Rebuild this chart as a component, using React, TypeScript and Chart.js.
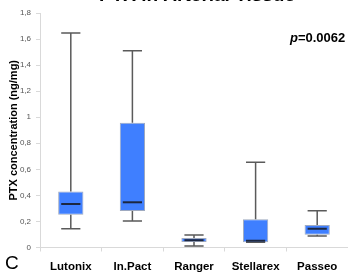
import React, { useEffect, useRef } from "react";
import { Chart, registerables } from "chart.js";

Chart.register(...registerables);

const categories = ["Lutonix", "In.Pact", "Ranger", "Stellarex", "Passeo"];
const mins = [0.144, 0.204, 0.012, 0.04, 0.088];
const q1s = [0.252, 0.28, 0.042, 0.04, 0.098];
const medians = [0.334, 0.347, 0.056, 0.052, 0.144];
const q3s = [0.429, 0.957, 0.072, 0.217, 0.173];
const maxs = [1.646, 1.51, 0.096, 0.655, 0.282];
const yTicks = [0, 0.2, 0.4, 0.6, 0.8, 1, 1.2, 1.4, 1.6, 1.8];

const FONT = "'Liberation Sans', Arial, sans-serif";

const boxPlugin = {
  id: "boxExtras",
  beforeDatasetsDraw(chart: any) {
    const ctx = chart.ctx;
    const y = chart.scales.y;
    const meta = chart.getDatasetMeta(0);
    ctx.save();
    ctx.strokeStyle = "#5a5a5a";
    ctx.lineWidth = 1.5;
    meta.data.forEach((bar: any, i: number) => {
      const x = bar.x;
      const capHalf = bar.width * 0.38;
      const yMax = y.getPixelForValue(maxs[i]);
      const yMin = y.getPixelForValue(mins[i]);
      const yQ3 = y.getPixelForValue(q3s[i]);
      const yQ1 = y.getPixelForValue(q1s[i]);
      ctx.beginPath();
      ctx.moveTo(x, yQ3);
      ctx.lineTo(x, yMax);
      ctx.moveTo(x - capHalf, yMax);
      ctx.lineTo(x + capHalf, yMax);
      ctx.moveTo(x, yQ1);
      ctx.lineTo(x, yMin);
      ctx.moveTo(x - capHalf, yMin);
      ctx.lineTo(x + capHalf, yMin);
      ctx.stroke();
    });
    ctx.restore();
  },
  afterDatasetsDraw(chart: any) {
    const ctx = chart.ctx;
    const y = chart.scales.y;
    const meta = chart.getDatasetMeta(0);
    ctx.save();
    ctx.strokeStyle = "#1c2740";
    ctx.lineWidth = 2;
    meta.data.forEach((bar: any, i: number) => {
      const x = bar.x;
      const half = bar.width * 0.38;
      const yMed = y.getPixelForValue(medians[i]);
      ctx.beginPath();
      ctx.moveTo(x - half, yMed);
      ctx.lineTo(x + half, yMed);
      ctx.stroke();
    });
    ctx.restore();
  },
  afterDraw(chart: any) {
    const ctx = chart.ctx;
    ctx.save();
    ctx.fillStyle = "#000";
    ctx.textBaseline = "alphabetic";
    ctx.textAlign = "center";
    ctx.font = `bold 19px ${FONT}`;
    ctx.fillText("PTX in Arterial Tissue", 197, 1);
    // p value
    ctx.textAlign = "left";
    ctx.font = `italic bold 13px ${FONT}`;
    const px = 290;
    const py = 42;
    ctx.fillText("p", px, py);
    const w = ctx.measureText("p").width;
    ctx.font = `bold 13px ${FONT}`;
    ctx.fillText("=0.0062", px + w, py);
    // panel letter
    ctx.font = `19px ${FONT}`;
    ctx.fillText("C", 5, 269);
    ctx.restore();
  },
};

export default function App() {
  const ref = useRef<HTMLCanvasElement | null>(null);
  useEffect(() => {
    if (!ref.current) return;
    const chart = new Chart(ref.current, {
      type: "bar",
      data: {
        labels: categories,
        datasets: [
          {
            data: categories.map((_, i) => [q1s[i], q3s[i]]) as any,
            backgroundColor: "#3f7fff",
            borderColor: "rgba(80,100,140,0.55)",
            borderWidth: 1,
            borderSkipped: false,
            categoryPercentage: 1,
            barPercentage: 0.41,
          },
        ],
      },
      options: {
        responsive: false,
        animation: false,
        layout: { padding: { top: 13, right: 0, left: 0, bottom: 0 } },
        plugins: {
          legend: { display: false },
          tooltip: { enabled: false },
          title: { display: false },
        },
        scales: {
          x: {
            grid: {
              display: true,
              drawOnChartArea: false,
              drawTicks: true,
              tickLength: 4,
              color: "#d9d9d9",
              offset: true,
            },
            border: { display: true, color: "#d9d9d9" },
            ticks: {
              color: "#000",
              padding: 8,
              font: { family: FONT, size: 11.5, weight: "bold" },
            },
            afterFit(scale: any) {
              scale.height = 24.5;
            },
          },
          y: {
            min: 0,
            max: 1.8,
            afterBuildTicks(scale: any) {
              scale.ticks = yTicks.map((v) => ({ value: v }));
            },
            grid: {
              display: true,
              drawOnChartArea: false,
              drawTicks: true,
              tickLength: 4,
              color: "#d9d9d9",
            },
            border: { display: true, color: "#d9d9d9" },
            ticks: {
              color: "#555",
              padding: 5,
              font: { family: FONT, size: 8 },
              callback: (v: any) => String(Number(v).toFixed(1)).replace(/\.0$/, "").replace(".", ","),
            },
            title: {
              display: true,
              text: "PTX concentration (ng/mg)",
              color: "#000",
              font: { family: FONT, size: 11, weight: "bold" },
              padding: { top: 7, bottom: 0 },
            },
            afterFit(scale: any) {
              scale.width = 40;
            },
          },
        },
      },
      plugins: [boxPlugin],
    });
    return () => chart.destroy();
  }, []);
  return (
    <div style={{ position: "absolute", left: 0, top: 0, width: 348, height: 272, background: "#fff" }}>
      <canvas ref={ref} width={348} height={272} />
    </div>
  );
}
